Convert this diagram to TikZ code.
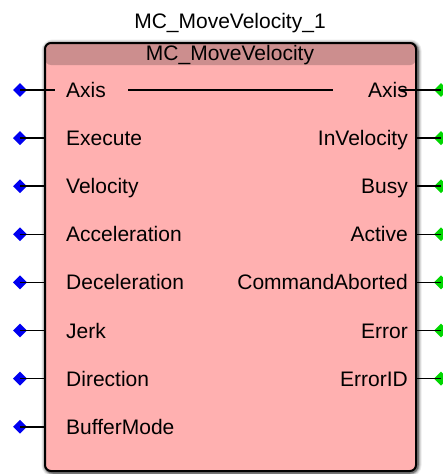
\documentclass[tikz,border=0pt]{standalone}
\usepackage{fontspec}
\setmainfont{Liberation Sans}
\usetikzlibrary{shapes.geometric}
\definecolor{fbfill}{RGB}{255,176,176}
\definecolor{fbhead}{RGB}{204,142,142}
\definecolor{pinin}{RGB}{0,0,240}
\definecolor{pinout}{RGB}{0,215,0}
\begin{document}
\begin{tikzpicture}[x=1pt,y=-1pt,
  lbl/.style={font=\fontsize{21}{24}\selectfont, inner sep=0pt, text height=15pt, text depth=0pt},
  inlbl/.style={lbl, anchor=west},
  outlbl/.style={lbl, anchor=east},
  pinA/.style={diamond, fill=pinin, minimum size=14pt, inner sep=0pt},
  pinB/.style={diamond, fill=pinout, minimum size=14pt, inner sep=0pt},
  wire/.style={line width=1.6pt},
  fbbox/.style={draw=black, line width=2pt, fill=fbfill, rounded corners=6pt,
    minimum width=371pt, minimum height=428pt, inner sep=0pt,
    path picture={\fill[fbhead] (path picture bounding box.north west) rectangle ([yshift=-22pt]path picture bounding box.north east);}}]
\useasboundingbox (0,0) rectangle (443,474);
% shadow
\foreach \w/\o in {9/0.08,7/0.12,5/0.18,3.5/0.3}
  \draw[black, opacity=\o, line width=\w pt, rounded corners=7pt] (46,44) rectangle (417,472);
\node[fbbox] (fb) at (230.5,257) {};
\node[lbl] (title) at (230,21) {MC\_MoveVelocity\_1};
\node[lbl] (head) at (230,53) {MC\_MoveVelocity};
% inputs
\foreach \n/\t [count=\i from 0] in {iaxis/Axis,iexe/Execute,ivel/Velocity,iacc/Acceleration,idec/Deceleration,ijerk/Jerk,idir/Direction,ibuf/BufferMode}{
  \pgfmathsetmacro{\yy}{90+48.1*\i}
  \node[inlbl] (\n) at (66,\yy) {\t};
  \node[pinA] (p\n) at (20,\yy) {};
  \coordinate (e\n) at (45,\yy);
}
\coordinate (eiaxis) at (55,90);
\foreach \n in {iaxis,iexe,ivel,iacc,idec,ijerk,idir,ibuf}
  \draw[wire] (p\n.center) -- (e\n);
% outputs
\foreach \n/\t [count=\i from 0] in {oaxis/Axis,oinv/InVelocity,obusy/Busy,oact/Active,oabort/CommandAborted,oerr/Error,oerrid/ErrorID}{
  \pgfmathsetmacro{\yy}{90+48.1*\i}
  \node[outlbl] (\n) at (408,\yy) {\t};
  \node[pinB] (p\n) at (441,\yy) {};
  \coordinate (e\n) at (416,\yy);
}
\coordinate (eoaxis) at (400,90);
\foreach \n in {oaxis,oinv,obusy,oact,oabort,oerr,oerrid}
  \draw[wire] (e\n) -- (p\n.center);
% axis pass-through
\coordinate (ax1) at (128,90);
\coordinate (ax2) at (333,90);
\draw[wire] (ax1) -- (ax2);
\end{tikzpicture}
\end{document}
